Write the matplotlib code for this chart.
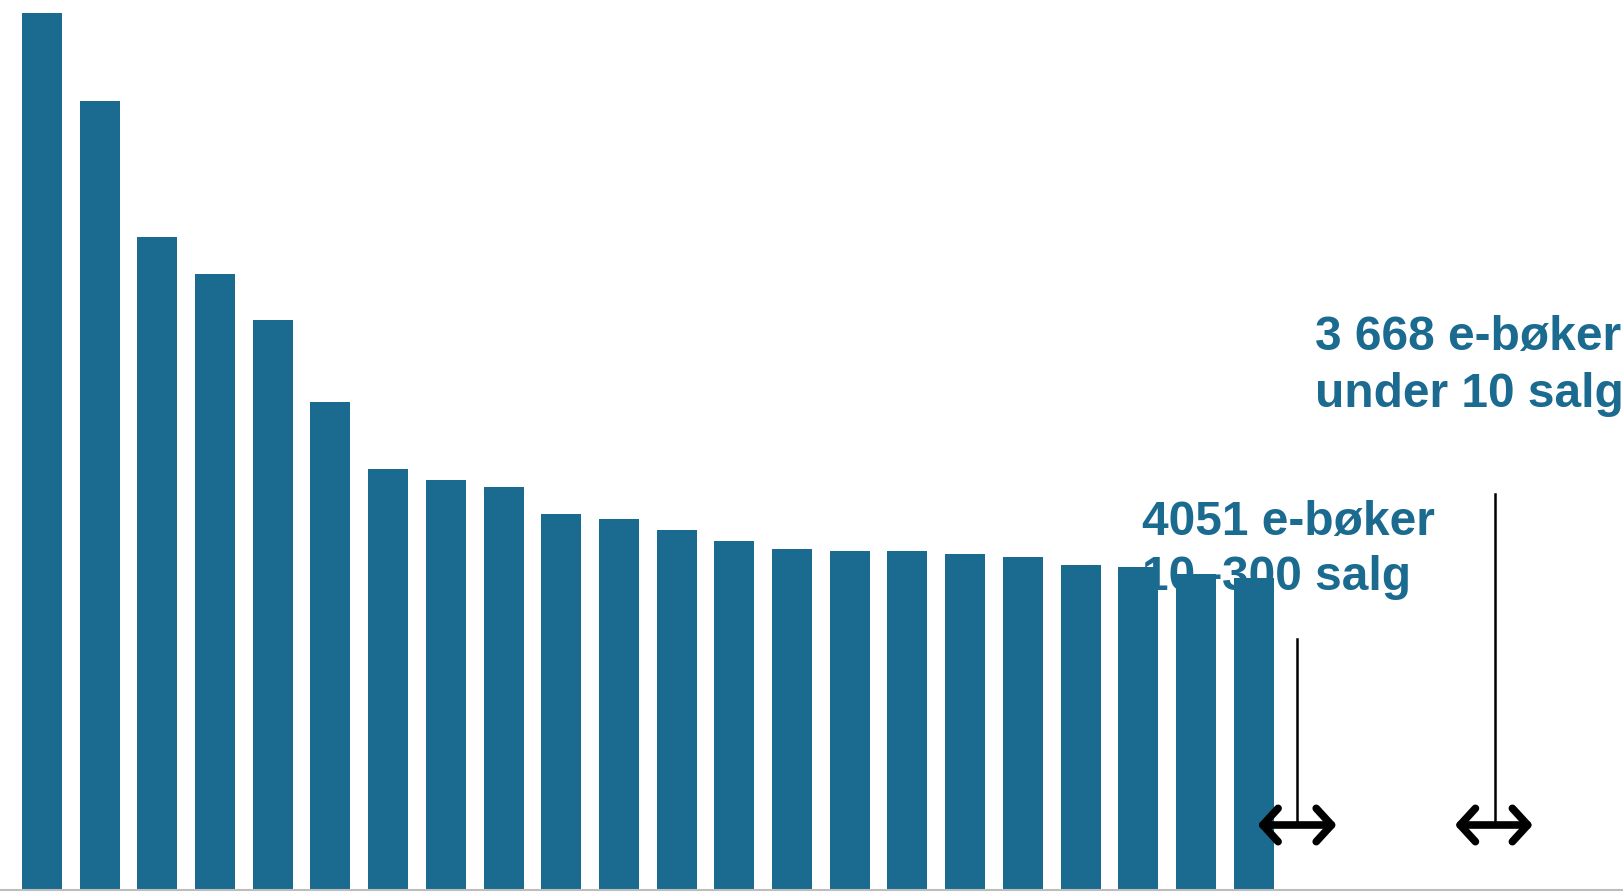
import matplotlib.pyplot as plt

## bar heights (arbitrary units)
sales = [877, 789, 653, 616, 570, 488, 421, 410, 403, 376, 371, 360,
         349, 341, 339, 339, 336, 333, 325, 323, 316, 312]
positions = list(range(len(sales)))

## annotations
labels_mid = ['4051 e-bøker', '10\u2013300 salg']
labels_right = ['3 668 e-bøker', 'under 10 salg']
arrow_spans = [(21.07, 22.44), (24.49, 25.84)]
arrow_stems = [(21.75, 251), (25.18, 396)]
arrow_level = 65

blue = '#1b6a8f'

plt.rcParams['font.family'] = ['Liberation Sans', 'DejaVu Sans']

fig = plt.figure(figsize=(16.24, 8.93), dpi=100)
ax = fig.add_axes([0, 3/893, 1, 890/893])

ax.bar(positions, sales, width=0.693, color=blue, zorder=1)

ax.set_xlim(-0.728, 27.42)
ax.set_ylim(0, 890)
for s in ['top', 'left', 'right']:
    ax.spines[s].set_visible(False)
ax.spines['bottom'].set_color('#bdbdbd')
ax.spines['bottom'].set_linewidth(1.5)
ax.set_xticks([])
ax.set_yticks([])

## text blocks
ax.text(19.06, 355, labels_mid[0], color=blue, fontsize=34.5, fontweight='bold', va='baseline', zorder=3)
ax.text(19.06, 300, labels_mid[1], color=blue, fontsize=34.5, fontweight='bold', va='baseline', zorder=3)
ax.text(22.06, 540, labels_right[0], color=blue, fontsize=34.5, fontweight='bold', va='baseline', zorder=3)
ax.text(22.06, 483, labels_right[1], color=blue, fontsize=34.5, fontweight='bold', va='baseline', zorder=3)

## stems and double arrows
for (xs, ytop) in arrow_stems:
    ax.plot([xs, xs], [arrow_level, ytop], color='black', lw=1.8, zorder=4)
for (x0, x1) in arrow_spans:
    ax.annotate('', xy=(x0, arrow_level), xytext=(x1, arrow_level),
                arrowprops=dict(arrowstyle='<->,head_length=0.55,head_width=0.6',
                                lw=5.5, color='black', shrinkA=0, shrinkB=0,
                                mutation_scale=20, capstyle='round', joinstyle='round'),
                zorder=5)

fig.savefig('out.png', dpi=100)
